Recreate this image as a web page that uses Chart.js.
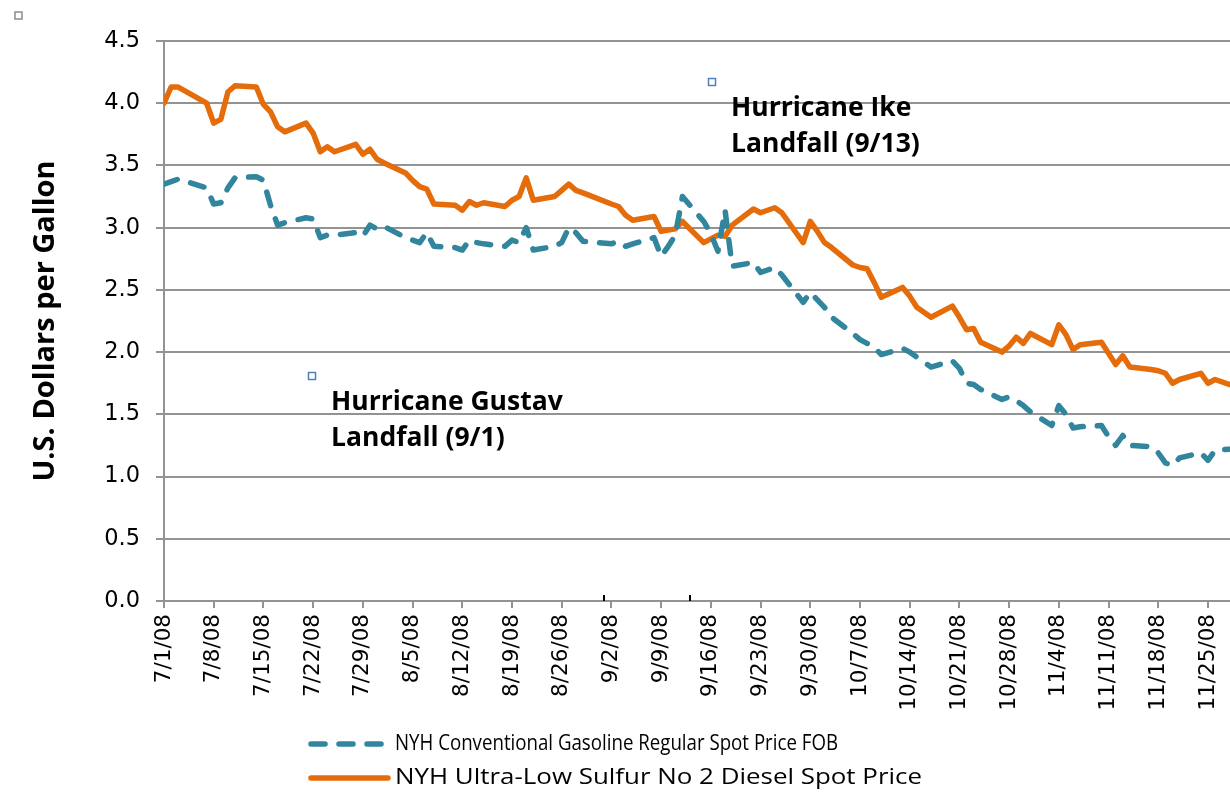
<!DOCTYPE html>
<html>
<head>
<meta charset="utf-8">
<script src="https://cdn.jsdelivr.net/npm/chart.js@4.4.1/dist/chart.umd.min.js"></script>
<style>
html,body{margin:0;padding:0;background:#fff;}
#wrap{width:1230px;height:794px;position:relative;}
</style>
</head>
<body>
<div id="wrap"><canvas id="c" width="1230" height="794"></canvas></div>
<script>
// ---- data (2008 trading days) ----
const dates = [
 "7/1","7/2","7/3","7/7","7/8","7/9","7/10","7/11","7/14","7/15","7/16","7/17","7/18","7/21","7/22","7/23","7/24","7/25","7/28","7/29","7/30","7/31",
 "8/1","8/4","8/5","8/6","8/7","8/8","8/11","8/12","8/13","8/14","8/15","8/18","8/19","8/20","8/21","8/22","8/25","8/26","8/27","8/28","8/29",
 "9/2","9/3","9/4","9/5","9/8","9/9","9/10","9/11","9/12","9/15","9/16","9/17","9/18","9/19","9/22","9/23","9/24","9/25","9/26","9/29","9/30",
 "10/1","10/2","10/3","10/6","10/7","10/8","10/9","10/10","10/13","10/14","10/15","10/16","10/17","10/20","10/21","10/22","10/23","10/24","10/27","10/28","10/29","10/30","10/31",
 "11/3","11/4","11/5","11/6","11/7","11/10","11/11","11/12","11/13","11/14","11/17","11/18","11/19","11/20","11/21","11/24","11/25","11/26","11/28"
];
const gasoline = [
 3.35,3.37,3.39,3.32,3.19,3.20,3.32,3.40,3.41,3.38,3.18,3.02,3.04,3.08,3.07,2.92,2.94,2.94,2.96,2.93,3.02,2.99,
 3.01,2.92,2.90,2.88,2.96,2.85,2.84,2.82,2.90,2.88,2.87,2.85,2.90,2.88,3.00,2.82,2.85,2.88,3.00,2.96,2.89,
 2.87,2.89,2.85,2.87,2.92,2.77,2.85,2.94,3.25,3.05,2.95,2.81,3.14,2.69,2.72,2.64,2.66,2.68,2.62,2.40,2.48,
 2.42,2.36,2.28,2.15,2.10,2.07,2.04,1.98,2.03,2.00,1.96,1.92,1.88,1.93,1.87,1.75,1.74,1.70,1.62,1.64,1.61,1.57,1.52,
 1.41,1.57,1.50,1.39,1.40,1.41,1.32,1.25,1.33,1.25,1.24,1.19,1.11,1.09,1.15,1.19,1.13,1.21,1.22
];
const diesel = [
 4.00,4.13,4.13,4.00,3.84,3.87,4.09,4.14,4.13,3.99,3.93,3.81,3.77,3.84,3.76,3.61,3.65,3.61,3.67,3.59,3.63,3.55,
 3.52,3.44,3.38,3.33,3.31,3.19,3.18,3.14,3.21,3.18,3.20,3.17,3.22,3.25,3.40,3.22,3.25,3.30,3.35,3.30,3.28,
 3.19,3.17,3.10,3.06,3.09,2.97,2.98,2.99,3.05,2.88,2.91,2.94,2.93,3.02,3.15,3.12,3.14,3.16,3.12,2.88,3.05,
 2.97,2.88,2.84,2.70,2.68,2.67,2.56,2.44,2.52,2.45,2.36,2.32,2.28,2.37,2.28,2.18,2.19,2.08,2.00,2.05,2.12,2.07,2.15,
 2.06,2.22,2.14,2.02,2.06,2.08,1.99,1.90,1.97,1.88,1.86,1.85,1.83,1.75,1.78,1.83,1.75,1.78,1.74
];
const tickLabels = ["7/1/08","7/8/08","7/15/08","7/22/08","7/29/08","8/5/08","8/12/08","8/19/08","8/26/08","9/2/08","9/9/08","9/16/08",
 "9/23/08","9/30/08","10/7/08","10/14/08","10/21/08","10/28/08","11/4/08","11/11/08","11/18/08","11/25/08"];
const yTicks = [0,0.5,1.0,1.5,2.0,2.5,3.0,3.5,4.0,4.5];
const seriesNames = ["NYH Conventional Gasoline Regular Spot Price FOB","NYH Ultra-Low Sulfur No 2 Diesel Spot Price"];
const eventDates = ["9/1","9/13"];
const eventLabels = [["Hurricane Gustav","Landfall (9/1)"],["Hurricane Ike","Landfall (9/13)"]];

// ---- helpers ----
function dayIndex(md){
  const p = md.split('/').map(Number);
  return Math.round((Date.UTC(2008,p[0]-1,p[1]) - Date.UTC(2008,6,1))/86400000);
}
const gasPts = dates.map((d,i)=>({x:dayIndex(d), y:gasoline[i]}));
const dslPts = dates.map((d,i)=>({x:dayIndex(d), y:diesel[i]}));
const tickDays = tickLabels.map(t=>dayIndex(t.split('/').slice(0,2).join('/')));

const TEAL = '#31859C', ORANGE = '#E46C0A', GRID = '#939393';

// annotation marker anchors (data units)
const eventBoxes = [
  {x: 20.8, y: 1.81},
  {x: 77.1, y: 4.17}
];
// legend text target widths (px) as seen in reference
const legendWidths = [443, 527];

const decorPlugin = {
  id:'decor',
  afterDatasetsDraw(chart){
    const ctx = chart.ctx, xs = chart.scales.x, ys = chart.scales.y;
    ctx.save();
    ctx.strokeStyle = '#000'; ctx.lineWidth = 2;
    eventDates.forEach(d=>{
      const px = Math.round(xs.getPixelForValue(dayIndex(d)));
      ctx.beginPath(); ctx.moveTo(px, ys.bottom-6); ctx.lineTo(px, ys.bottom); ctx.stroke();
    });
    eventBoxes.forEach((b,i)=>{
      const px = Math.round(xs.getPixelForValue(b.x)), py = Math.round(ys.getPixelForValue(b.y));
      ctx.fillStyle='#fff'; ctx.strokeStyle='#4F81BD'; ctx.lineWidth=1.5;
      ctx.fillRect(px-3.5,py-3.5,7,7); ctx.strokeRect(px-3.5,py-3.5,7,7);
      ctx.fillStyle='#000'; ctx.font='bold 26.5px "Open Sans"'; ctx.textBaseline='middle'; ctx.textAlign='left';
      eventLabels[i].forEach((t,k)=>ctx.fillText(t, px+19, py+26+k*36));
    });
    ctx.strokeStyle='#8c8c8c'; ctx.lineWidth=1.5; ctx.fillStyle='#fff';
    ctx.fillRect(15,12,7,7); ctx.strokeRect(15,12,7,7);
    ctx.restore();
  },
  afterDraw(chart){
    const ctx = chart.ctx;
    ctx.save();
    chart.data.datasets.forEach((ds,i)=>{
      const y = 744 + i*34;
      ctx.strokeStyle = ds.borderColor; ctx.lineWidth = ds.borderWidth;
      ctx.lineCap = ds.borderCapStyle || 'butt';
      ctx.setLineDash(ds.borderDash || []);
      ctx.beginPath(); ctx.moveTo(311,y); ctx.lineTo(388,y); ctx.stroke();
      ctx.setLineDash([]);
      ctx.fillStyle='#000'; ctx.font='21px "Open Sans"'; ctx.textBaseline='middle'; ctx.textAlign='left';
      const w = ctx.measureText(ds.label).width;
      const sx = legendWidths[i] / w;
      ctx.save();
      ctx.translate(395, y); ctx.scale(sx, 1);
      ctx.fillText(ds.label, 0, 0);
      ctx.restore();
    });
    ctx.restore();
  }
};

new Chart(document.getElementById('c'), {
  type:'line',
  data:{
    datasets:[
      {label:seriesNames[0], data:gasPts, borderColor:TEAL, backgroundColor:TEAL, borderWidth:5.5,
       borderDash:[14,14], borderCapStyle:'round', borderJoinStyle:'round', pointRadius:0, tension:0, fill:false},
      {label:seriesNames[1], data:dslPts, borderColor:ORANGE, backgroundColor:ORANGE, borderWidth:5.5,
       borderCapStyle:'round', borderJoinStyle:'round', pointRadius:0, tension:0, fill:false}
    ]
  },
  options:{
    responsive:false, animation:false, devicePixelRatio:1,
    layout:{padding:{top:41,left:0,right:0,bottom:0}},
    plugins:{legend:{display:false}, tooltip:{enabled:false}},
    scales:{
      x:{type:'linear', min:0, max:150.1,
        afterBuildTicks(s){ s.ticks = tickDays.map(v=>({value:v})); },
        afterFit(s){ s.height = 193; s.paddingRight = 0; s.paddingLeft = 0; },
        ticks:{autoSkip:false, minRotation:90, maxRotation:90, padding:6, color:'#000',
          font:{family:'"DejaVu Sans"', size:21.5},
          callback(v,i){ return tickLabels[i]; }},
        grid:{drawOnChartArea:false, drawTicks:true, tickLength:7, color:GRID, lineWidth:2},
        border:{display:true, color:GRID, width:2}
      },
      y:{min:0, max:4.5,
        afterBuildTicks(s){ s.ticks = yTicks.map(v=>({value:v})); },
        afterFit(s){ s.width = 164; s.paddingTop = 0; s.paddingBottom = 0; },
        ticks:{padding:16, color:'#000', font:{family:'"DejaVu Sans"', size:22.5},
          callback(v){ return Number(v).toFixed(1); }},
        grid:{color:GRID, lineWidth:2, tickLength:8},
        border:{display:true, color:GRID, width:2},
        title:{display:true, text:'U.S. Dollars per Gallon', color:'#000',
          font:{family:'"Open Sans"', weight:'bold', size:29}, padding:{top:28,bottom:0}}
      }
    }
  },
  plugins:[decorPlugin]
});
</script>
</body>
</html>
